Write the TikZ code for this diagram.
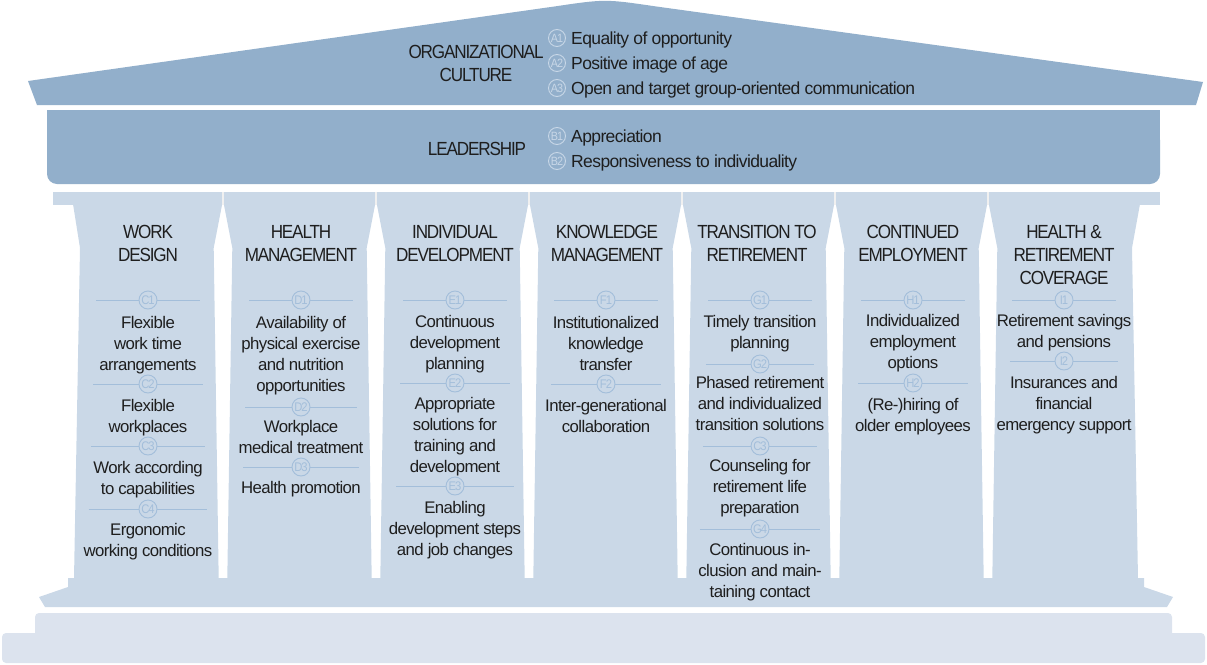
\documentclass[tikz,border=0pt]{standalone}
\usepackage{fontspec}
\setmainfont{Liberation Sans}
\newfontfamily\bodyf[LetterSpace=-3.5]{Liberation Sans}
\newfontfamily\titlef[LetterSpace=-6,FakeStretch=0.9]{Liberation Sans}
\newfontfamily\badgef[LetterSpace=-8,FakeStretch=0.9]{Liberation Sans}
\definecolor{roofc}{HTML}{92AFCB}
\definecolor{colc}{HTML}{CAD8E7}
\definecolor{basec}{HTML}{DCE3EE}
\definecolor{linec}{HTML}{A3BEDA}
\definecolor{rooflinec}{HTML}{C8D7E7}
\definecolor{txtc}{HTML}{1E1E1E}
\newcommand\mybadge[4]{%
  \node[badge] (#1) at (#2,#3) {#4};
  \pgfmathsetmacro\hw{52+0.035*(#3-300)}
  \draw[sepline] ([xshift=-\hw pt]#1.center) -- (#1.west);
  \draw[sepline] (#1.east) -- ([xshift=\hw pt]#1.center);
}
\begin{document}
\begin{tikzpicture}[x=1pt,y=-1pt,
  badge/.style={circle, draw=linec, line width=0.9pt, minimum size=18pt, inner sep=0pt, text=linec, font=\badgef\fontsize{12.5}{13}\selectfont},
  roofbadge/.style={circle, draw=rooflinec, line width=0.9pt, minimum size=17pt, inner sep=0pt, text=rooflinec, font=\badgef\fontsize{12}{13}\selectfont},
  sepline/.style={draw=linec, line width=1pt},
  body/.style={font=\bodyf\fontsize{16.8}{21}\selectfont, align=center, anchor=base, inner sep=0pt, text=txtc},
  ttl/.style={font=\titlef\fontsize{19}{23}\selectfont, align=center, anchor=base, inner sep=0pt, text=txtc},
  roofitem/.style={font=\bodyf\fontsize{17.5}{25}\selectfont, anchor=base west, inner sep=0pt, text=txtc},
  divl/.style={draw=white!88!gray, line width=1.3pt}
]
\useasboundingbox (0,0) rectangle (1207,664);

% roof
\fill[roofc] (28,81) -- (555,6.4) .. controls (605,-1) .. (655,6.3) -- (1203,82) -- (1196,105) -- (37,105) -- cycle;
% leadership band
\fill[roofc, rounded corners=10pt] (47,130) -- (47,184) -- (1160,184) -- (1160,130) -- cycle;
\fill[roofc] (47,110) rectangle (1160,140);
% plate
\fill[colc] (53,192) rectangle (1160,204.6);
% columns
\foreach \L/\R/\a/\b/\c/\d in {
  73/222.2/7/1/8.5/3.5,
  223.8/375.2/8.5/3.5/8.5/3.5,
  376.8/528.2/8.5/3.5/8.5/3.5,
  529.8/681.2/8.5/3.5/8.5/3.5,
  682.8/834.2/8.5/3.5/8.5/3.5,
  835.8/987.2/8.5/3.5/8.5/3.5,
  988.8/1140/8.5/3.5/8/2}{
  \fill[colc] (\L,204) -- (\R,204) -- (\R-\c,248) -- (\R-\d,579) -- (\L+\b,579) -- (\L+\a,248) -- cycle;
}
\foreach \x in {223,376,529,682,835,988}{
  \draw[divl] (\x,192) -- (\x,205);
}
% plinth
\fill[colc] (68,578) -- (68,587) -- (39,597) -- (45,607) -- (1167,607) -- (1173,597) -- (1144,587) -- (1144,578) -- cycle;
% base steps
\fill[basec, rounded corners=4pt] (35,613) rectangle (1172,650);
\fill[basec, rounded corners=4pt] (2,633) rectangle (1205,663);

% roof texts
\node[ttl] (oc) at (476,81) {ORGANIZATIONAL\\CULTURE};
\node[roofbadge] (a1) at (557,38) {A1};
\node[roofbadge] (a2) at (557,63) {A2};
\node[roofbadge] (a3) at (557,88) {A3};
\node[roofitem] (a1t) at (571,44.5) {Equality of opportunity};
\node[roofitem] (a2t) at (571,69.5) {Positive image of age};
\node[roofitem] (a3t) at (571,94.5) {Open and target group-oriented communication};

\node[ttl] (ld) at (477,155) {LEADERSHIP};
\node[roofbadge] (b1) at (557,136) {B1};
\node[roofbadge] (b2) at (557,161) {B2};
\node[roofitem] (b1t) at (571,142.5) {Appreciation};
\node[roofitem] (b2t) at (571,167.5) {Responsiveness to individuality};

% column titles
\node[ttl] (h1) at (148,261) {WORK\\DESIGN};
\node[ttl] (h2) at (301,261) {HEALTH\\MANAGEMENT};
\node[ttl] (h3) at (455,261) {INDIVIDUAL\\DEVELOPMENT};
\node[ttl] (h4) at (607,261) {KNOWLEDGE\\MANAGEMENT};
\node[ttl] (h5) at (757,261) {TRANSITION TO\\RETIREMENT};
\node[ttl] (h6) at (913,261) {CONTINUED\\EMPLOYMENT};
\node[ttl] (h7) at (1064,284) {HEALTH \&\\RETIREMENT\\COVERAGE};

% column 1
\mybadge{c1}{148}{300}{C1}
\node[body] (c1t) at (148,370) {Flexible\\work time\\arrangements};
\mybadge{c2}{148}{384}{C2}
\node[body] (c2t) at (148,432) {Flexible\\workplaces};
\mybadge{c3}{148}{446}{C3}
\node[body] (c3t) at (148,494) {Work according\\to capabilities};
\mybadge{c4}{148}{509}{C4}
\node[body] (c4t) at (148,556) {Ergonomic\\working conditions};

% column 2
\mybadge{d1}{301}{300}{D1}
\node[body] (d1t) at (301,391) {Availability of\\physical exercise\\and nutrition\\opportunities};
\mybadge{d2}{301}{407}{D2}
\node[body] (d2t) at (301,453) {Workplace\\medical treatment};
\mybadge{d3}{301}{467}{D3}
\node[body] (d3t) at (301,493) {Health promotion};

% column 3
\mybadge{e1}{455}{300}{E1}
\node[body] (e1t) at (455,369) {Continuous\\development\\planning};
\mybadge{e2}{455}{383}{E2}
\node[body] (e2t) at (455,472) {Appropriate\\solutions for\\training and\\development};
\mybadge{e3}{455}{486}{E3}
\node[body] (e3t) at (455,555) {Enabling\\development steps\\and job changes};

% column 4
\mybadge{f1}{606}{300}{F1}
\node[body] (f1t) at (606,370) {Institutionalized\\knowledge\\transfer};
\mybadge{f2}{606}{384}{F2}
\node[body] (f2t) at (606,432) {Inter-generational\\collaboration};

% column 5
\mybadge{g1}{760}{300}{G1}
\node[body] (g1t) at (760,348) {Timely transition\\planning};
\mybadge{g2}{760}{364}{G2}
\node[body] (g2t) at (760,430) {Phased retirement\\and individualized\\transition solutions};
\mybadge{g3}{760}{446}{C3}
\node[body] (g3t) at (760,513) {Counseling for\\retirement life\\preparation};
\mybadge{g4}{760}{529}{G4}
\node[body] (g4t) at (760,597) {Continuous in-\\clusion and main-\\taining contact};

% column 6
\mybadge{k1}{913}{300}{H1}
\node[body] (k1t) at (913,368) {Individualized\\employment\\options};
\mybadge{k2}{913}{383}{H2}
\node[body] (k2t) at (913,431) {(Re-)hiring of\\older employees};

% column 7
\mybadge{i1}{1064}{300}{I1}
\node[body] (i1t) at (1064,347) {Retirement savings\\and pensions};
\mybadge{i2}{1064}{361}{I2}
\node[body] (i2t) at (1064,430) {Insurances and\\financial\\emergency support};
\end{tikzpicture}
\end{document}
